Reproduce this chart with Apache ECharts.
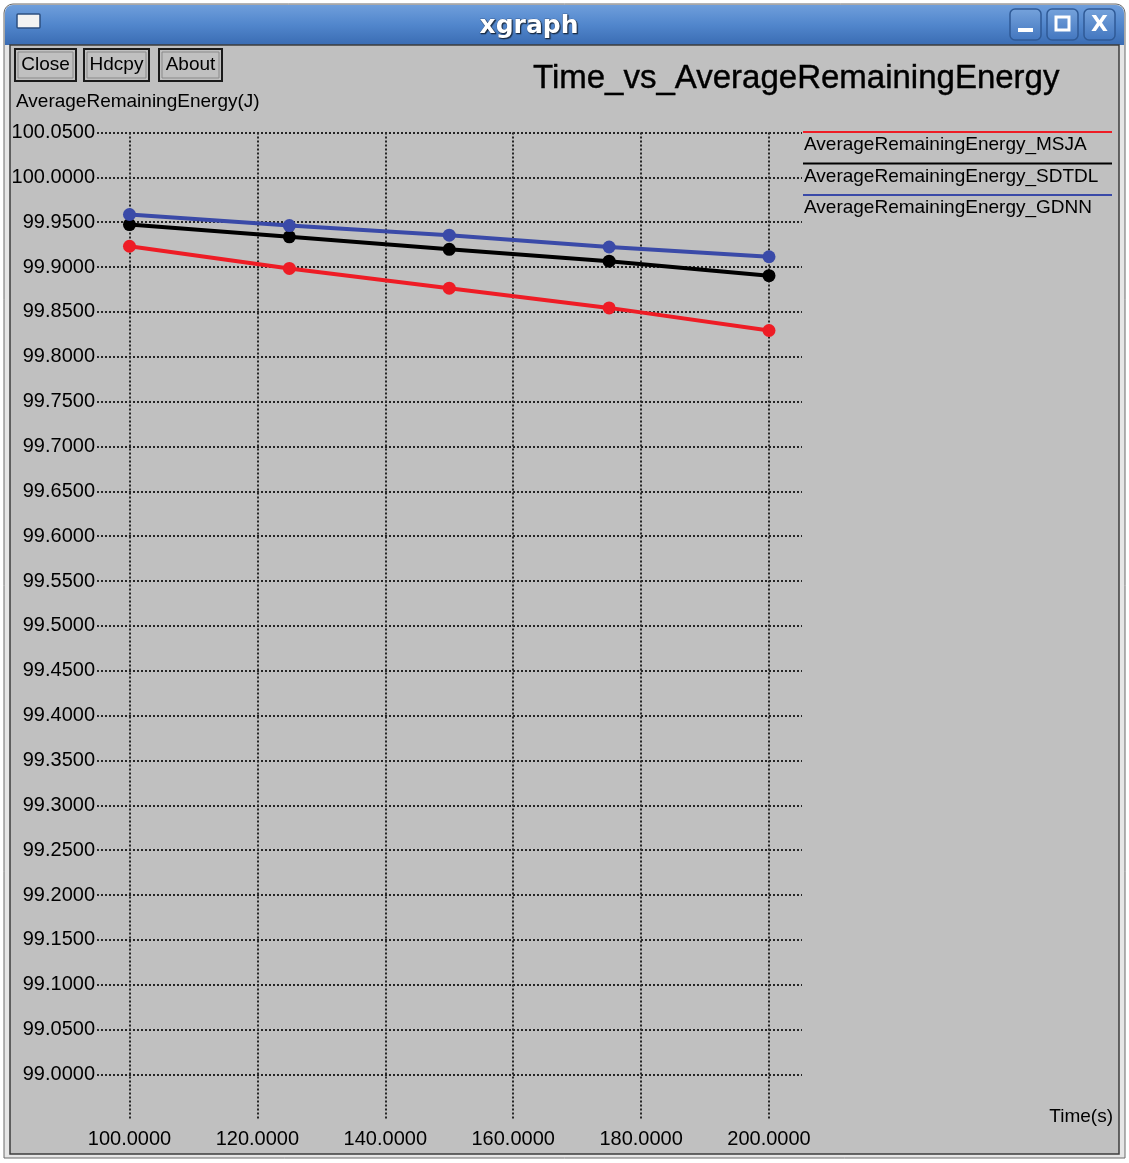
<!DOCTYPE html>
<html>
<head>
<meta charset="utf-8">
<script src="https://cdn.jsdelivr.net/npm/echarts@6/dist/echarts.min.js"></script>
<style>
  html, body { margin: 0; padding: 0; background: #fff; }
  #chart { width: 1129px; height: 1163px; }
</style>
</head>
<body>
<div id="chart"></div>
<script>
// data
var times = [100, 125, 150, 175, 200];
var seriesNames = ['AverageRemainingEnergy_MSJA', 'AverageRemainingEnergy_SDTDL', 'AverageRemainingEnergy_GDNN'];
var msja = [99.9232, 99.8985, 99.8765, 99.8545, 99.8293];
var sdtdl = [99.9474, 99.9337, 99.9198, 99.9066, 99.8904];
var gdnn = [99.9586, 99.9463, 99.9356, 99.9224, 99.9115];
var seriesColors = ['#ee1c25', '#000000', '#3a4aa8'];
var windowTitle = 'xgraph';
var chartTitle = 'Time_vs_AverageRemainingEnergy';
var yName = 'AverageRemainingEnergy(J)';
var xName = 'Time(s)';
var buttons = ['Close', 'Hdcpy', 'About'];

var FONT = '"Liberation Sans", Arial, sans-serif';
var myChart = echarts.init(document.getElementById('chart'));

function pairs(ys) {
  return times.map(function (t, i) { return [t, ys[i]]; });
}
var allValues = [msja, sdtdl, gdnn];

var dotted = { color: '#262626', width: 2, type: [2, 2] };

// window chrome
var graphics = [
  { type: 'rect', z: -10, shape: { x: 4, y: 4, width: 1121, height: 1154, r: [9, 9, 0, 0] },
    style: { fill: '#e6e6e6', stroke: '#6b6b6b', lineWidth: 1 } },
  { type: 'rect', z: -9, shape: { x: 5, y: 5, width: 1119, height: 40, r: [8, 8, 0, 0] },
    style: { fill: new echarts.graphic.LinearGradient(0, 0, 0, 1, [
      { offset: 0, color: '#6f9edb' }, { offset: 0.5, color: '#5186cc' }, { offset: 1, color: '#3a6cb3' }]) } },
  { type: 'rect', z: -9, shape: { x: 10, y: 45, width: 1109, height: 1109 },
    style: { fill: '#c0c0c0', stroke: '#3c3c3c', lineWidth: 1.5 } },
  // left icon
  { type: 'rect', shape: { x: 17, y: 14, width: 23, height: 14, r: 1 },
    style: { fill: '#f2f2f2', stroke: '#2d4f80', lineWidth: 1.5 } },
  { type: 'text', style: { text: windowTitle, x: 529, y: 26, font: 'bold 25px "DejaVu Sans", sans-serif',
    fill: '#ffffff', stroke: '#2a4a78', lineWidth: 0.5, textAlign: 'center', textVerticalAlign: 'middle',
    align: 'center', verticalAlign: 'middle', textShadowColor: 'rgba(0,0,0,0.6)', textShadowOffsetX: 1, textShadowOffsetY: 1, textShadowBlur: 1 } },
  // chart title
  { type: 'text', style: { text: chartTitle, x: 533, y: 79, font: '33px ' + FONT, fill: '#000',
    stroke: '#000', lineWidth: 0.4, textVerticalAlign: 'middle', verticalAlign: 'middle' } },
  { type: 'text', style: { text: yName, x: 16, y: 102, font: '19px ' + FONT, fill: '#000',
    textVerticalAlign: 'middle', verticalAlign: 'middle' } },
  { type: 'text', style: { text: xName, x: 1113, y: 1117, font: '19px ' + FONT, fill: '#000',
    textAlign: 'right', align: 'right', textVerticalAlign: 'middle', verticalAlign: 'middle' } }
];

// title bar window buttons
[1010, 1047, 1084].forEach(function (bx, i) {
  graphics.push({ type: 'rect', shape: { x: bx, y: 9, width: 31, height: 31, r: 5 },
    style: { fill: new echarts.graphic.LinearGradient(0, 0, 0, 1, [
      { offset: 0, color: '#76a3dc' }, { offset: 1, color: '#4276bf' }]), stroke: '#2f5a96', lineWidth: 1.5 } });
  if (i === 0) {
    graphics.push({ type: 'rect', shape: { x: bx + 8, y: 28, width: 15, height: 4 }, style: { fill: '#fff' } });
  } else if (i === 1) {
    graphics.push({ type: 'rect', shape: { x: bx + 9, y: 17, width: 13, height: 13 },
      style: { fill: 'none', stroke: '#fff', lineWidth: 3 } });
  } else {
    graphics.push({ type: 'text', style: { text: 'X', x: bx + 15.5, y: 25, font: 'bold 22px "DejaVu Sans", sans-serif',
      fill: '#fff', textAlign: 'center', align: 'center', textVerticalAlign: 'middle', verticalAlign: 'middle' } });
  }
});

// xgraph buttons
var btnBoxes = [[15, 61], [84, 65], [159, 63]];
buttons.forEach(function (b, i) {
  var bx = btnBoxes[i][0], bw = btnBoxes[i][1];
  graphics.push({ type: 'rect', shape: { x: bx, y: 49, width: bw, height: 32 },
    style: { fill: '#c0c0c0', stroke: '#1a1a1a', lineWidth: 2 } });
  graphics.push({ type: 'rect', shape: { x: bx + 3, y: 52, width: bw - 6, height: 26 },
    style: { fill: 'none', stroke: '#8a8a8a', lineWidth: 1 } });
  graphics.push({ type: 'text', style: { text: b, x: bx + bw / 2, y: 65, font: '19px ' + FONT, fill: '#000',
    textAlign: 'center', align: 'center', textVerticalAlign: 'middle', verticalAlign: 'middle' } });
});

// legend: line above each name
seriesNames.forEach(function (n, i) {
  var ly = 132 + i * 31.5;
  graphics.push({ type: 'line', shape: { x1: 803, y1: ly, x2: 1112, y2: ly },
    style: { stroke: seriesColors[i], lineWidth: 2 } });
  graphics.push({ type: 'text', style: { text: n, x: 804, y: ly + 13, font: '19px ' + FONT, fill: '#000',
    textVerticalAlign: 'middle', verticalAlign: 'middle' } });
});

myChart.setOption({
  animation: false,
  backgroundColor: '#ffffff',
  graphic: graphics,
  grid: [
    // vertical grid lines and x labels
    { left: 129.5, right: 360, top: 132.5, bottom: 43 },
    // horizontal grid lines, y labels and data
    { left: 97, right: 327, top: 132.5, bottom: 88.5 }
  ],
  xAxis: [
    { gridIndex: 0, type: 'value', min: 100, max: 200, interval: 20,
      axisLine: { show: false }, axisTick: { show: false },
      splitLine: { show: true, lineStyle: dotted },
      axisLabel: { fontSize: 20, fontFamily: FONT, color: '#000', margin: 9,
        formatter: function (v) { return v.toFixed(4); } } },
    { gridIndex: 1, type: 'value', min: 94.92, max: 205.16, show: false }
  ],
  yAxis: [
    { gridIndex: 0, type: 'value', min: 98.9493, max: 100.05, show: false, splitLine: { show: false } },
    { gridIndex: 1, type: 'value', min: 99, max: 100.05, interval: 0.05,
      axisLine: { show: false }, axisTick: { show: false },
      splitLine: { show: true, lineStyle: dotted },
      axisLabel: { fontSize: 20, fontFamily: FONT, color: '#000', margin: 2,
        formatter: function (v) { return v.toFixed(4); } } }
  ],
  series: seriesNames.map(function (n, i) {
    return {
      name: n, type: 'line', xAxisIndex: 1, yAxisIndex: 1,
      data: pairs(allValues[i]),
      symbol: 'circle', symbolSize: 13, clip: false,
      lineStyle: { color: seriesColors[i], width: 4 },
      itemStyle: { color: seriesColors[i] }
    };
  })
});
</script>
</body>
</html>
